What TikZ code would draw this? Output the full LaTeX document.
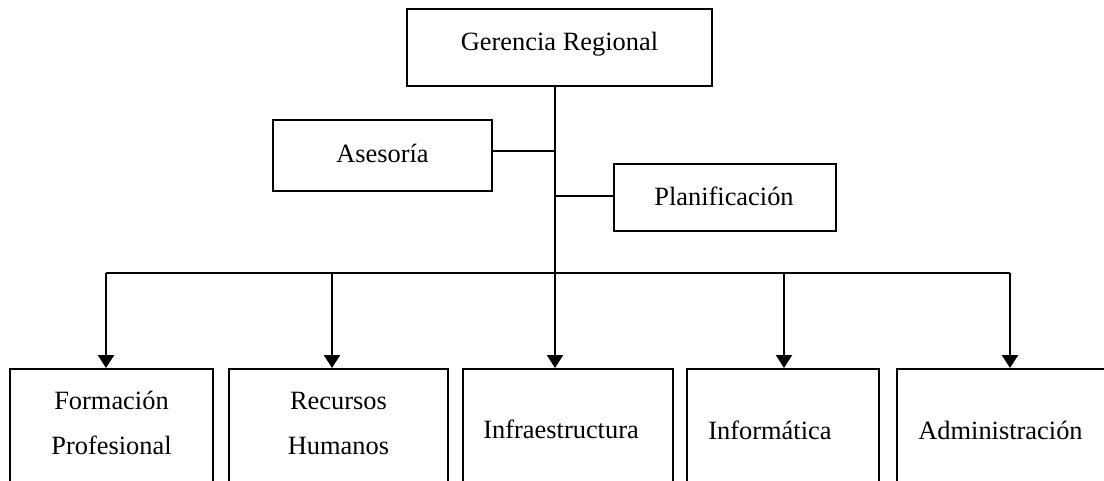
\documentclass[tikz,border=0pt]{standalone}
\usepackage{fontspec}
\setmainfont{Liberation Serif}
\usetikzlibrary{arrows.meta}

\begin{document}
\begin{tikzpicture}[
  x=0.5pt, y=-0.5pt,
  every node/.style={font=\fontsize{13.2}{22.5}\selectfont},
  unit/.style={draw, line width=1.2pt, inner sep=0pt},
  label text/.style={align=center, inner sep=0pt},
  link/.style={line width=1.2pt},
  down/.style={line width=1.2pt, -{Triangle[width=8pt,length=6.5pt]}}
]
\useasboundingbox (0,0) rectangle (1104,481);
\clip (0,0) rectangle (1104,481);

% top of the chart
\node[unit, minimum width=152.5pt, minimum height=38.5pt] (ger) at (559.5,47.5) {};
\node[label text] (ger-t) at (559.5,44) {Gerencia Regional};

% staff units
\node[unit, minimum width=109.5pt, minimum height=35.5pt] (ase) at (382.5,155.5) {};
\node[label text] (ase-t) at (382.5,153) {Asesoría};
\node[unit, minimum width=111pt, minimum height=33.5pt] (pla) at (725,197.5) {};
\node[label text] (pla-t) at (724,196) {Planificación};

% trunk and branch points
\coordinate (bus) at (555,273);
\coordinate (ja) at (555,151);
\coordinate (jp) at (555,196);
\draw[link] (ger.south -| bus) -- (bus);
\draw[link] (ase.east |- ja) -- (ja);
\draw[link] (jp) -- (pla.west |- jp);

% operating units (boxes run past the lower edge)
\node[unit, anchor=north, minimum width=101.5pt, minimum height=65pt] (fp) at (111.5,368) {};
\node[unit, anchor=north, minimum width=109.5pt, minimum height=65pt] (rh) at (338.5,368) {};
\node[unit, anchor=north, minimum width=105pt, minimum height=65pt] (inf) at (568,368) {};
\node[unit, anchor=north, minimum width=96pt, minimum height=65pt] (it) at (783,368) {};
\node[unit, anchor=north, minimum width=109pt, minimum height=65pt] (adm) at (1006,368) {};

\node[label text] (fp-t) at (111.5,423) {Formación\\Profesional};
\node[label text] (rh-t) at (338.5,423) {Recursos\\Humanos};
\node[label text, anchor=west] (inf-t) at (483,429) {Infraestructura};
\node[label text, anchor=west] (it-t) at (708,430) {Informática};
\node[label text, anchor=west] (adm-t) at (918,430) {Administración};

% distribution bar and arrows
\coordinate (b1) at (106,273);
\coordinate (b2) at (332,273);
\coordinate (b4) at (784,273);
\coordinate (b5) at (1010,273);
\draw[link] (b1) -- (b5);
\draw[down] (b1) -- (b1 |- fp.north);
\draw[down] (b2) -- (b2 |- rh.north);
\draw[down] (bus) -- (bus |- inf.north);
\draw[down] (b4) -- (b4 |- it.north);
\draw[down] (b5) -- (b5 |- adm.north);
\end{tikzpicture}
\end{document}
